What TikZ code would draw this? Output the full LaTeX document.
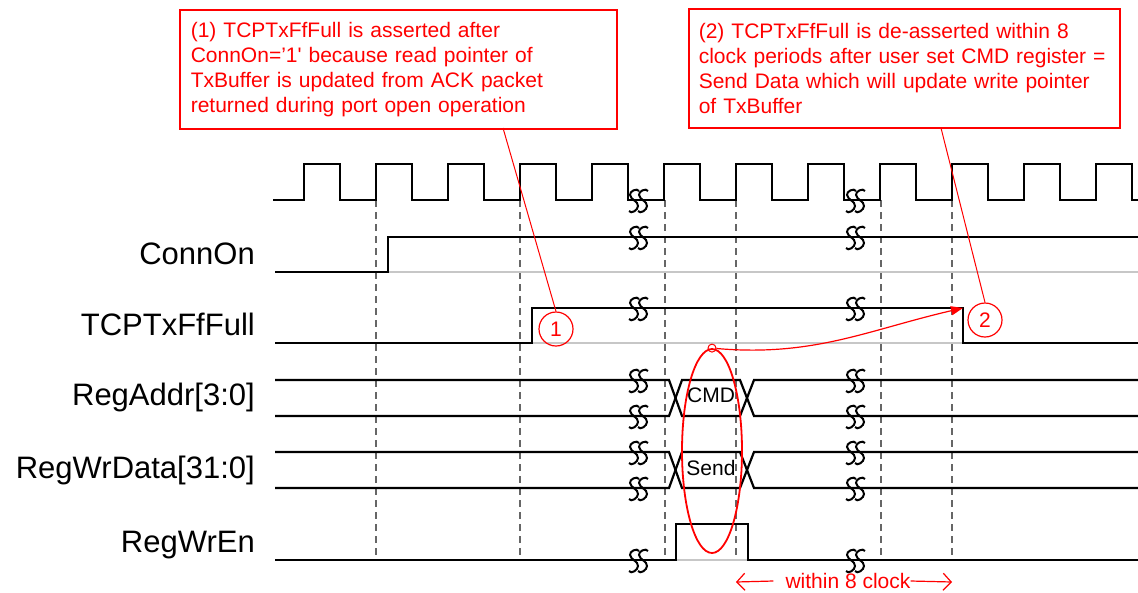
\documentclass[tikz,border=0pt]{standalone}
\usepackage{fontspec}
\setmainfont{Liberation Sans}
\usetikzlibrary{arrows.meta,shapes.geometric}

\begin{document}
\begin{tikzpicture}[
	x=1pt, y=-1pt,
	sig/.style={line width=2.2pt},
	ghost/.style={line width=1.2pt, black!22},
	guide/.style={line width=1.8pt, black!60, dash pattern=on 7pt off 5pt},
	brk/.style={line width=2pt},
	lbl/.style={anchor=base east, inner sep=0pt, font=\fontsize{31}{36}\selectfont},
	val/.style={inner sep=0pt, font=\fontsize{21}{25}\selectfont},
	note/.style={draw=red, line width=1.6pt, text=red, anchor=north west, align=left, minimum height=119pt, font=\fontsize{21}{25}\selectfont},
	tag/.style={draw=red, circle, line width=1.2pt, text=red, minimum size=34pt, inner sep=0pt, font=\fontsize{21}{25}\selectfont},
	redline/.style={red, line width=1pt},
	arrow/.style={red, line width=1.2pt, -{Triangle[length=12pt, width=9pt]}},
	dimline/.style={red, line width=1.2pt, -{Straight Barb[length=8pt, width=17pt]}}
	]
	\useasboundingbox (0,0) rectangle (1138,592);
	
	\foreach \g in {376,520,665,736,881,952}
		\draw[guide] (\g,200) -- (\g,560);
	
	\draw[sig] (273,200) foreach \r in {304,376,...,1096} {-- (\r,200) -- (\r,164) -- (\r+36,164) -- (\r+36,200)} -- (1138,200);
	
	\node[lbl] (L1) at (255,264) {ConnOn};
	\node[lbl] (L2) at (255,335) {TCPTxFfFull};
	\node[lbl] (L3) at (255,405) {RegAddr[3:0]};
	\node[lbl] (L4) at (255,478) {RegWrData[31:0]};
	\node[lbl] (L5) at (255,552) {RegWrEn};
	
	\draw[ghost] (388,272) -- (1138,272);
	\draw[ghost] (532,343) -- (963,343);
	\draw[ghost] (676,560) -- (748,560);
	
	\draw[sig] (275,272) -- (388,272) -- (388,237) -- (1138,237);
	\draw[sig] (275,343) -- (532,343) -- (532,308) -- (963,308) -- (963,343) -- (1138,343);
	\draw[sig] (275,380) -- (669,380) -- (682,416) -- (740,416) -- (754,380) -- (1138,380);
	\draw[sig] (275,416) -- (669,416) -- (682,380) -- (740,380) -- (754,416) -- (1138,416);
	\draw[sig] (275,452) -- (669,452) -- (682,488) -- (740,488) -- (754,452) -- (1138,452);
	\draw[sig] (275,488) -- (669,488) -- (682,452) -- (740,452) -- (754,488) -- (1138,488);
	\draw[sig] (275,560) -- (676,560) -- (676,524) -- (748,524) -- (748,560) -- (1138,560);
	
	\foreach \a in {634,643,851,860}
		\foreach \b in {200,237,308,380,416,452,488,560}
			\draw[brk] (\a+5,\b-9) to[out=120,in=100] (\a-4,\b-5) to[out=-80,in=90] (\a+4,\b+6) to[out=-90,in=-60] (\a-5,\b+11);
	
	\node[val] (D1) at (711,395) {CMD};
	\node[val] (D2) at (711,468) {Send};
	
	\node[note, text width=415pt, inner xsep=11pt] (B1) at (179,9) {(1) TCPTxFfFull is asserted after\\ConnOn=’1\textquotesingle{} because read pointer of\\TxBuffer is updated from ACK packet\\returned during port open operation};
	\node[note, text width=411pt, inner xsep=10pt] (B2) at (688,8) {(2) TCPTxFfFull is de-asserted within 8\\clock periods after user set CMD register =\\Send Data which will update write pointer\\of TxBuffer};
	
	\node[tag] (C1) at (556,329) {1};
	\node[tag] (C2) at (985,320) {2};
	\coordinate (P1) at (503,128);
	\coordinate (P2) at (941,128);
	\draw[redline] (P1) -- (C1.north);
	\draw[redline] (P2) -- (C2.north);
	
	\node[draw=red, ellipse, line width=1.8pt, minimum width=60pt, minimum height=204pt, inner sep=0pt] (E) at (712,451) {};
	\node[draw=red, circle, line width=1pt, minimum size=8pt, inner sep=0pt] (S) at (E.north) {};
	\coordinate (F) at (963,308);
	\draw[arrow] (S) to[out=-5, in=193] (F);
	
	\node[val, text=red] (W) at (848,581) {within 8 clock};
	\coordinate (LT) at (736,582);
	\coordinate (RT) at (952,582);
	\draw[dimline] ([xshift=-12pt]W.west) -- (LT);
	\draw[dimline] (W.east) -- (RT);
\end{tikzpicture}
\end{document}
